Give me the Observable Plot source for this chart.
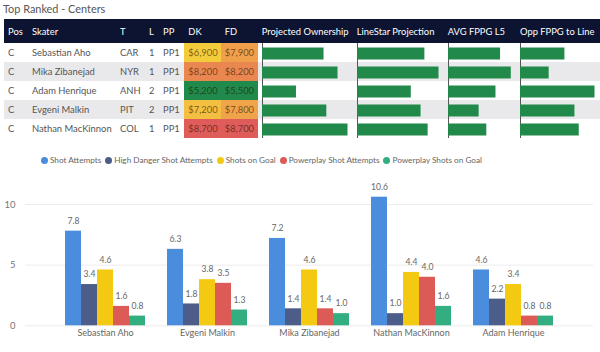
<!DOCTYPE html>
<html><head><meta charset="utf-8">
<script src="https://cdn.jsdelivr.net/npm/d3@7"></script>
<script src="https://cdn.jsdelivr.net/npm/@observablehq/plot@0.6"></script>
<style>
body{margin:0;width:600px;height:352px;overflow:hidden;background:#fff;font-family:Lato,"Open Sans",sans-serif;position:relative;}
#title{position:absolute;left:3px;top:2px;font-size:10.9px;color:#555;}
table{position:absolute;left:4px;top:19px;border-collapse:collapse;table-layout:fixed;width:596px;}
th{background:#0d1431;color:#fff;font-weight:normal;text-align:left;height:24px;padding:0 0 0 4px;font-size:9.4px;white-space:nowrap;overflow:hidden;}
td{height:19px;padding:0 0 0 4px;font-size:9.4px;color:#555;white-space:nowrap;overflow:hidden;}
tr.alt td{background:#e9e9eb;}
td.plot{padding:0;}
td.plot svg{display:block;}
td.sal{color:rgba(40,20,0,0.62);}
#legend{position:absolute;left:41px;top:155px;display:flex;font-size:8.2px;color:#666;}
#legend .item{display:flex;align-items:center;margin-right:4px;}
#legend .dot{width:7px;height:7px;border-radius:50%;margin-right:2px;}
#chart{position:absolute;left:0;top:170px;width:600px;height:182px;}
#chart svg{position:absolute;left:0;top:0;}
</style>
</head><body>
<div id="title">Top Ranked - Centers</div>
<table id="tbl"></table>
<div id="legend"></div>
<div id="chart"></div>
<script>
// ---- Table data ----
const tableHeaders = ["Pos","Skater","T","L","PP","DK","FD","Projected Ownership","LineStar Projection","AVG FPPG L5","Opp FPPG to Line"];
const pos = ["C","C","C","C","C"];
const skaters = ["Sebastian Aho","Mika Zibanejad","Adam Henrique","Evgeni Malkin","Nathan MacKinnon"];
const teams = ["CAR","NYR","ANH","PIT","COL"];
const lines = [1,1,2,2,1];
const powerplay = ["PP1","PP1","PP1","PP1","PP1"];
const dkSalary = [6900,8200,5200,7200,8700];
const fdSalary = [7900,8200,5500,7800,8700];
const projectedOwnership = [15.4,18.9,8.5,16.1,21.4];
const lineStarProjection = [12.4,15.0,9.9,11.7,13.0];
const avgFppgL5 = [3.4,4.1,3.1,2.0,2.5];
const oppFppgToLine = [3.1,2.0,5.2,3.8,4.1];

// ---- Chart data ----
const players = ["Sebastian Aho","Evgeni Malkin","Mika Zibanejad","Nathan MacKinnon","Adam Henrique"];
const metrics = ["Shot Attempts","High Danger Shot Attempts","Shots on Goal","Powerplay Shot Attempts","Powerplay Shots on Goal"];
const shotAttempts = [7.8,6.3,7.2,10.6,4.6];
const highDangerShotAttempts = [3.4,1.8,1.4,1.0,2.2];
const shotsOnGoal = [4.6,3.8,4.6,4.4,3.4];
const powerplayShotAttempts = [1.6,3.5,1.4,4.0,0.8];
const powerplayShotsOnGoal = [0.8,1.3,1.0,1.6,0.8];
const yTicks = [0,5,10];
const seriesColors = ["#4a8ddc","#4c5d8a","#f3c911","#dc5b57","#33ae81"];

const FONT = 'Lato,"Open Sans",sans-serif';

// ---- Table ----
const colWidths = [24,88,29,14,25.3,36.4,37,95,91,72.3,84];
const tbl = document.getElementById("tbl");
const cg = document.createElement("colgroup");
colWidths.forEach(w => { const c = document.createElement("col"); c.style.width = w + "px"; cg.appendChild(c); });
tbl.appendChild(cg);
const thead = document.createElement("tr");
tableHeaders.forEach(h => { const th = document.createElement("th"); th.textContent = h; thead.appendChild(th); });
tbl.appendChild(thead);

const salaryColor = Plot.scale({color: {type: "linear", domain: [5500, 6900, 7900, 8700],
  range: ["#1f8a4c", "#f3cc3c", "#f0a04a", "#e05c5a"], clamp: true}});
const fmt = d3.format("$,");

const barCols = [projectedOwnership, lineStarProjection, avgFppgL5, oppFppgToLine];
function miniBar(value, max, width) {
  return Plot.plot({
    width, height: 19, marginTop: 0, marginBottom: 0, marginLeft: 4, marginRight: 5.5,
    x: {domain: [0, max], axis: null}, y: {axis: null},
    style: {background: "transparent"},
    marks: [
      Plot.ruleX([0], {stroke: "#555", strokeWidth: 1}),
      Plot.barX([value], {x: d => d, fill: "#21894a", insetTop: 4.5, insetBottom: 2.5})
    ]
  });
}

skaters.forEach((s, i) => {
  const tr = document.createElement("tr");
  if (i % 2 === 1) tr.className = "alt";
  [pos[i], s, teams[i], lines[i], powerplay[i]].forEach(v => {
    const td = document.createElement("td"); td.textContent = v; tr.appendChild(td);
  });
  [dkSalary[i], fdSalary[i]].forEach(v => {
    const td = document.createElement("td"); td.className = "sal";
    td.textContent = fmt(v); td.style.background = salaryColor.apply(v); tr.appendChild(td);
  });
  barCols.forEach((col, j) => {
    const td = document.createElement("td"); td.className = "plot";
    td.appendChild(miniBar(col[i], d3.max(col), colWidths[7 + j]));
    tr.appendChild(td);
  });
  tbl.appendChild(tr);
});

// ---- Legend ----
const legend = document.getElementById("legend");
metrics.forEach((m, i) => {
  const it = document.createElement("div"); it.className = "item";
  const dot = document.createElement("div"); dot.className = "dot"; dot.style.background = seriesColors[i];
  const t = document.createElement("span"); t.textContent = m;
  it.appendChild(dot); it.appendChild(t); legend.appendChild(it);
});

// ---- Grouped bar chart ----
const seriesList = [shotAttempts, highDangerShotAttempts, shotsOnGoal, powerplayShotAttempts, powerplayShotsOnGoal];
const rows = [];
players.forEach((p, i) => metrics.forEach((m, j) => rows.push({player: p, metric: m, value: seriesList[j][i]})));

const common = {
  width: 600, height: 182,
  marginLeft: 25, marginRight: 7, marginTop: 9.7, marginBottom: 26.7,
  style: {fontFamily: FONT, fontSize: "9px", color: "#666", background: "transparent"}
};

// background: y axis and grid
const gridPlot = Plot.plot({
  ...common,
  y: {domain: [0, 12], label: null, ticks: yTicks, tickSize: 0, tickPadding: 10},
  marks: [
    Plot.ruleY(yTicks, {stroke: "#ececec"}),
    Plot.axisY(yTicks, {tickSize: 0, tickPadding: 10, label: null, fill: "#777", fontSize: 9.5})
  ]
});

const chart = Plot.plot({
  ...common,
  fx: {domain: players, paddingInner: 0.22, paddingOuter: 0.39, label: null, tickSize: 0, tickPadding: 4, axis: "bottom"},
  x: {domain: metrics, padding: 0, axis: null},
  y: {domain: [0, 12], label: null, axis: null},
  color: {domain: metrics, range: seriesColors},
  marks: [
    Plot.barY(rows, {fx: "player", x: "metric", y: "value", fill: "metric"}),
    Plot.text(rows, {fx: "player", x: "metric", y: "value", text: d => d.value.toFixed(1), dy: -10, fill: "#666", fontSize: 8.6})
  ]
});
document.getElementById("chart").appendChild(gridPlot);
document.getElementById("chart").appendChild(chart);
</script>
</body></html>
